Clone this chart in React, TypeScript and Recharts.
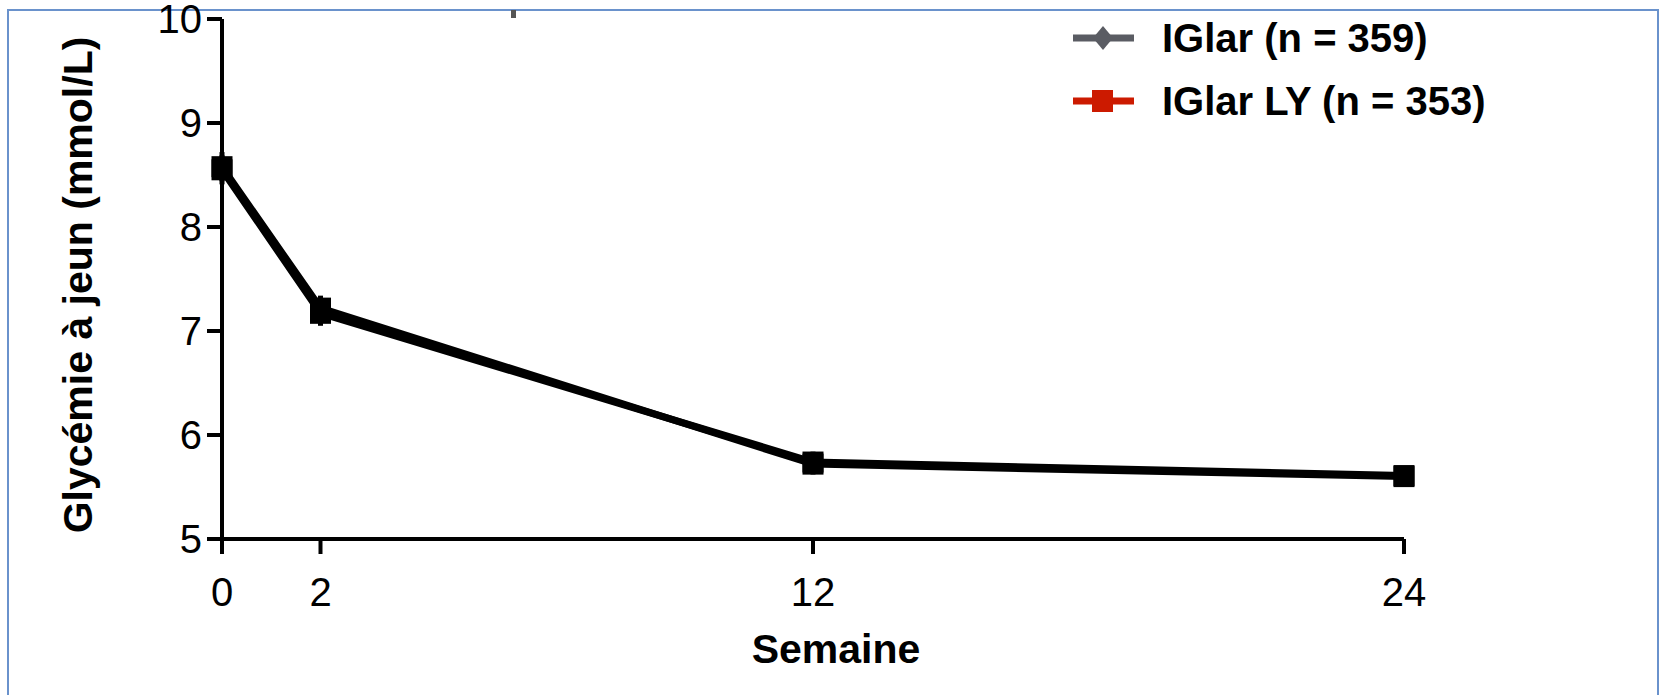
import React from "react";
import { LineChart, Line, XAxis, YAxis, ErrorBar, Label } from "recharts";

const weeks = [0, 2, 12, 24];
const iglar = [8.55, 7.17, 5.74, 5.61];
const iglarLY = [8.58, 7.22, 5.72, 5.6];
const iglarErr = [0.14, 0.12, 0.1, 0.08];
const iglarLYErr = [0.14, 0.12, 0.1, 0.08];
const xTicks = [0, 2, 12, 24];
const yTicks = [5, 6, 7, 8, 9, 10];
const seriesNames = ["IGlar (n = 359)", "IGlar LY (n = 353)"];
const yTitle = "Glycémie à jeun (mmol/L)";
const xTitle = "Semaine";

const data = weeks.map((w, i) => ({
  week: w,
  a: iglar[i],
  aErr: iglarErr[i],
  b: iglarLY[i],
  bErr: iglarLYErr[i],
}));

const FONT = "'Liberation Sans', Arial, Helvetica, sans-serif";

const SquareDot = (props: any) => {
  const { cx, cy } = props;
  if (cx == null || cy == null) return null;
  const s = 21;
  return <rect x={cx - s / 2} y={cy - s / 2} width={s} height={s} fill="#000" />;
};

const LegendBlock = () => (
  <div
    style={{
      position: "absolute",
      left: 1072,
      top: 18,
      fontFamily: FONT,
      fontWeight: "bold",
      fontSize: 40,
      color: "#000",
    }}
  >
    <div style={{ display: "flex", alignItems: "center", height: 40, marginBottom: 23 }}>
      <svg width={90} height={40} style={{ display: "block" }}>
        <line x1={1} y1={20} x2={62} y2={20} stroke="#5a5c63" strokeWidth={7} />
        <polygon points="31,8 41,20 31,32 21,20" fill="#5a5c63" />
      </svg>
      <span style={{ lineHeight: "40px", whiteSpace: "nowrap" }}>{seriesNames[0]}</span>
    </div>
    <div style={{ display: "flex", alignItems: "center", height: 40 }}>
      <svg width={90} height={40} style={{ display: "block" }}>
        <line x1={1} y1={20} x2={62} y2={20} stroke="#cc1a00" strokeWidth={7} />
        <rect x={20} y={9} width={21} height={22} fill="#cc1a00" />
      </svg>
      <span style={{ lineHeight: "40px", whiteSpace: "nowrap" }}>{seriesNames[1]}</span>
    </div>
  </div>
);

export default function App() {
  return (
    <div
      style={{
        position: "fixed",
        left: 0,
        top: 0,
        width: 1664,
        height: 695,
        background: "#fff",
        overflow: "hidden",
      }}
    >
      <div
        style={{
          position: "absolute",
          left: 7,
          top: 9,
          width: 1648,
          height: 720,
          borderTop: "2px solid #6a92cc",
          borderLeft: "2px solid #6a92cc",
          borderRight: "2px solid #6a92cc",
        }}
      />
      <div
        style={{
          position: "absolute",
          left: 511,
          top: 10,
          width: 5,
          height: 8,
          background: "#555",
        }}
      />
      <div style={{ position: "absolute", left: 0, top: 0 }}>
        <LineChart
          width={1664}
          height={695}
          data={data}
          margin={{ top: 19, right: 260, bottom: 96, left: 122 }}
        >
          <XAxis
            dataKey="week"
            type="number"
            domain={[0, 24]}
            ticks={xTicks}
            height={60}
            tickSize={15}
            tickMargin={24}
            axisLine={{ stroke: "#000", strokeWidth: 4 }}
            tickLine={{ stroke: "#000", strokeWidth: 4 }}
            tick={{ fill: "#000", fontSize: 40, fontFamily: FONT }}
            interval={0}
          >
            <Label
              content={(p: any) => {
                const vb = p.viewBox || {};
                const cx = vb.x + vb.width / 2 + 23;
                const by = vb.y + 124;
                return (
                  <text
                    x={cx}
                    y={by}
                    textAnchor="middle"
                    fontFamily={FONT}
                    fontWeight="bold"
                    fontSize={41}
                    fill="#000"
                  >
                    {xTitle}
                  </text>
                );
              }}
            />
          </XAxis>
          <YAxis
            type="number"
            domain={[5, 10]}
            ticks={yTicks}
            width={100}
            tickSize={15}
            tickMargin={5}
            axisLine={{ stroke: "#000", strokeWidth: 4 }}
            tickLine={{ stroke: "#000", strokeWidth: 4 }}
            tick={{ fill: "#000", fontSize: 40, fontFamily: FONT }}
            interval={0}
          >
            <Label
              content={(p: any) => {
                const vb = p.viewBox || {};
                const bx = 92;
                const cy = vb.y + vb.height / 2 + 6;
                return (
                  <text
                    x={bx}
                    y={cy}
                    transform={`rotate(-90 ${bx} ${cy})`}
                    textAnchor="middle"
                    fontFamily={FONT}
                    fontWeight="bold"
                    fontSize={41}
                    fill="#000"
                  >
                    {yTitle}
                  </text>
                );
              }}
            />
          </YAxis>
          <Line
            type="linear"
            dataKey="a"
            name={seriesNames[0]}
            stroke="#000"
            strokeWidth={7}
            dot={<SquareDot />}
            activeDot={false}
            isAnimationActive={false}
          >
            <ErrorBar dataKey="aErr" width={0} stroke="#000" strokeWidth={5} direction="y" />
          </Line>
          <Line
            type="linear"
            dataKey="b"
            name={seriesNames[1]}
            stroke="#000"
            strokeWidth={7}
            dot={<SquareDot />}
            activeDot={false}
            isAnimationActive={false}
          >
            <ErrorBar dataKey="bErr" width={0} stroke="#000" strokeWidth={5} direction="y" />
          </Line>
        </LineChart>
      </div>
      <LegendBlock />
    </div>
  );
}
